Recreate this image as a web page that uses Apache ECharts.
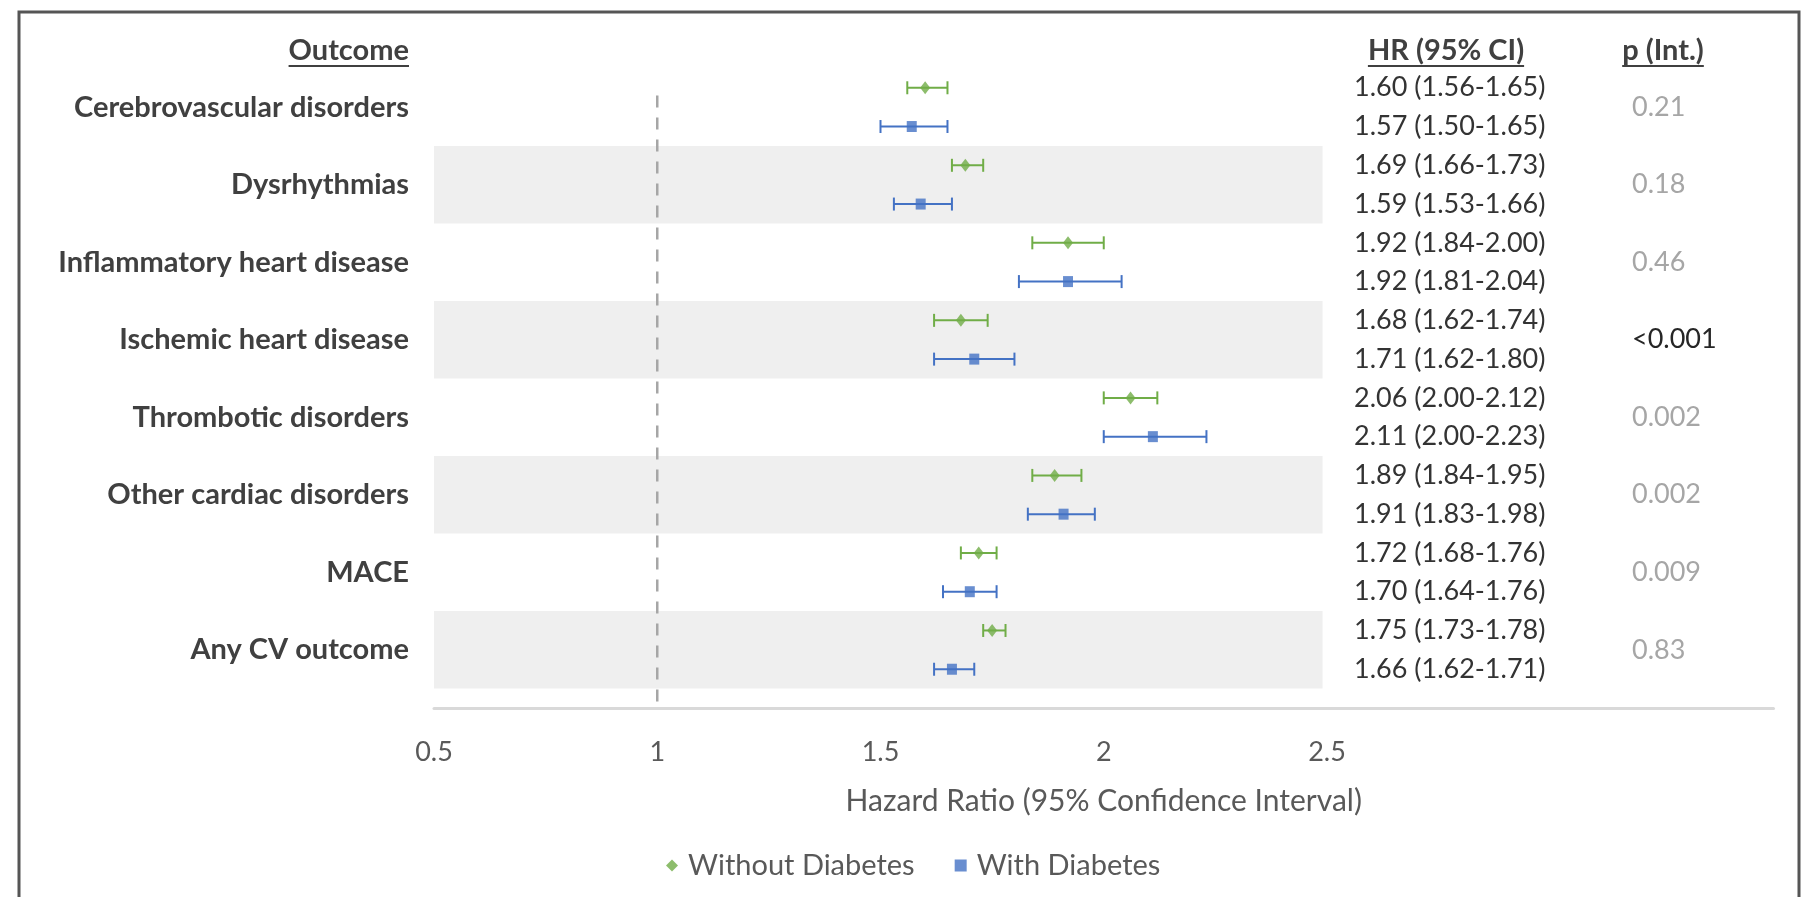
<!DOCTYPE html>
<html>
<head>
<meta charset="utf-8">
<script src="https://cdn.jsdelivr.net/npm/echarts@6.0.0/dist/echarts.min.js"></script>
<style>
  html, body { margin: 0; padding: 0; background: #ffffff; }
  #chart { width: 1805px; height: 897px; }
</style>
</head>
<body>
<div id="chart"></div>
<script>
// Outcomes, top to bottom
const outcomes = [
  'Cerebrovascular disorders',
  'Dysrhythmias',
  'Inflammatory heart disease',
  'Ischemic heart disease',
  'Thrombotic disorders',
  'Other cardiac disorders',
  'MACE',
  'Any CV outcome'
];

// Hazard ratios and 95% CI, without diabetes
const hrWithout = [1.60, 1.69, 1.92, 1.68, 2.06, 1.89, 1.72, 1.75];
const loWithout = [1.56, 1.66, 1.84, 1.62, 2.00, 1.84, 1.68, 1.73];
const hiWithout = [1.65, 1.73, 2.00, 1.74, 2.12, 1.95, 1.76, 1.78];

// Hazard ratios and 95% CI, with diabetes
const hrWith = [1.57, 1.59, 1.92, 1.71, 2.11, 1.91, 1.70, 1.66];
const loWith = [1.50, 1.53, 1.81, 1.62, 2.00, 1.83, 1.64, 1.62];
const hiWith = [1.65, 1.66, 2.04, 1.80, 2.23, 1.98, 1.76, 1.71];

// Interaction p-values
const pInt = ['0.21', '0.18', '0.46', '<0.001', '0.002', '0.002', '0.009', '0.83'];

// Tick labels shown on the hazard-ratio axis
const xTickLabels = [0.5, 1, 1.5, 2, 2.5];

const seriesNames = ['Without Diabetes', 'With Diabetes'];
const colGreen = '#70AD47';
const colBlue = '#4472C4';

const FONT = 'Lato, "Open Sans", sans-serif';

// Layout
const L = {
  gridLeft: 434, gridTop: 49, gridWidth: 1339.5, gridHeight: 659,
  labelRight: 409, hrX: 1354, pX: 1632,
  headerY: 51, hrHeadX: 1446, pHeadX: 1663,
  titleY: 801
};

// Row positions on the vertical value scale: two rows per outcome
const rowOf = (k, g) => 2 * k + 1 + g;

const fmt = v => v.toFixed(2);

const ciData = (hr, lo, hi, g) => hr.map((v, k) => [lo[k], hi[k], rowOf(k, g), v]);
const pointData = (hr, g) => hr.map((v, k) => [v, rowOf(k, g)]);

// Shaded bands behind every second outcome
const bandData = outcomes.map((o, k) => k).filter(k => k % 2 === 1)
  .map(k => [0.5, 2.49, 2 * k + 0.5, 2 * k + 2.5]);

function measure(text, font) {
  const ctx = document.createElement('canvas').getContext('2d');
  ctx.font = font;
  return ctx.measureText(text).width;
}

function errorBarRenderer(color) {
  return function (params, api) {
    const a = api.coord([api.value(0), api.value(2)]);
    const b = api.coord([api.value(1), api.value(2)]);
    const cap = 6.5;
    const style = { stroke: color, lineWidth: 2 };
    return {
      type: 'group',
      children: [
        { type: 'line', shape: { x1: a[0], y1: a[1], x2: b[0], y2: b[1] }, style: style },
        { type: 'line', shape: { x1: a[0], y1: a[1] - cap, x2: a[0], y2: a[1] + cap }, style: style },
        { type: 'line', shape: { x1: b[0], y1: b[1] - cap, x2: b[0], y2: b[1] + cap }, style: style }
      ]
    };
  };
}

const chart = echarts.init(document.getElementById('chart'), null, { renderer: 'canvas' });

// Header texts with underline
const headerSize = 29;
const headerFont = 'bold ' + headerSize + 'px Lato';
const headers = [
  { text: 'Outcome', x: L.labelRight, align: 'right' },
  { text: 'HR (95% CI)', x: L.hrHeadX, align: 'center' },
  { text: 'p (Int.)', x: L.pHeadX, align: 'center' }
];
const headerGraphics = [];
headers.forEach(h => {
  const w = measure(h.text, headerFont);
  const x0 = h.align === 'right' ? h.x - w : h.x - w / 2;
  headerGraphics.push({
    type: 'text', x: h.x, y: L.headerY,
    style: { text: h.text, fill: '#404040', fontSize: headerSize, fontWeight: 'bold', fontFamily: FONT,
             align: h.align, verticalAlign: 'middle' }
  });
  headerGraphics.push({
    type: 'line',
    shape: { x1: x0, y1: L.headerY + 15, x2: x0 + w, y2: L.headerY + 15 },
    style: { stroke: '#404040', lineWidth: 1.8 }
  });
});

const option = {
  backgroundColor: '#ffffff',
  animation: false,
  grid: { left: L.gridLeft, top: L.gridTop, width: L.gridWidth, height: L.gridHeight, containLabel: false },
  xAxis: {
    type: 'value', min: 0.5, max: 3.5, interval: 0.5, position: 'bottom',
    name: 'Hazard Ratio (95% Confidence Interval)',
    nameLocation: 'middle', nameGap: L.titleY - (L.gridTop + L.gridHeight),
    nameTextStyle: { color: '#595959', fontSize: 30, fontFamily: FONT, verticalAlign: 'middle' },
    axisLine: { show: true, onZero: false, lineStyle: { color: '#d9d9d9', width: 3 } },
    axisTick: { show: false },
    splitLine: { show: false },
    axisLabel: {
      formatter: v => (xTickLabels.indexOf(v) >= 0 ? String(v) : ''),
      color: '#595959', fontSize: 27, fontFamily: FONT, margin: 31
    }
  },
  yAxis: { type: 'value', min: 0, max: 17, inverse: true, show: false },
  legend: {
    data: [
      { name: seriesNames[0], icon: 'diamond' },
      { name: seriesNames[1], icon: 'rect' }
    ],
    left: 661, top: 846,
    itemWidth: 12, itemHeight: 12, itemGap: 40,
    textStyle: { color: '#595959', fontSize: 29, fontFamily: FONT, padding: [0, 0, 0, 5] }
  },
  graphic: [
    {
      type: 'rect', shape: { x: 19, y: 12, width: 1780, height: 920 },
      style: { fill: 'none', stroke: '#555555', lineWidth: 3 }, z: 100
    },
    ...headerGraphics
  ],
  series: [
    {
      name: 'bands', type: 'custom', silent: true, clip: false, z: 0,
      data: bandData, encode: { x: [0, 1], y: [2, 3] },
      renderItem: (params, api) => {
        const p0 = api.coord([api.value(0), api.value(2)]);
        const p1 = api.coord([api.value(1), api.value(3)]);
        return { type: 'rect', shape: { x: p0[0], y: p0[1], width: p1[0] - p0[0], height: p1[1] - p0[1] },
                 style: { fill: '#efefef' } };
      }
    },
    {
      name: 'reference', type: 'custom', silent: true, clip: false, z: 1,
      data: [[1, 1.2, 17]], encode: { x: 0, y: [1, 2] },
      renderItem: (params, api) => {
        const a = api.coord([api.value(0), api.value(1)]);
        const b = api.coord([api.value(0), api.value(2)]);
        return { type: 'line', shape: { x1: a[0], y1: a[1], x2: b[0], y2: b[1] },
                 style: { stroke: '#a6a6a6', lineWidth: 2.5, lineDash: [12, 10] } };
      }
    },
    {
      name: 'ciWithout', type: 'custom', silent: true, clip: false, z: 2,
      data: ciData(hrWithout, loWithout, hiWithout, 0), encode: { x: [0, 1], y: 2 },
      renderItem: errorBarRenderer(colGreen)
    },
    {
      name: 'ciWith', type: 'custom', silent: true, clip: false, z: 2,
      data: ciData(hrWith, loWith, hiWith, 1), encode: { x: [0, 1], y: 2 },
      renderItem: errorBarRenderer(colBlue)
    },
    {
      name: seriesNames[0], type: 'scatter', z: 3,
      symbol: 'diamond', symbolSize: [10, 13],
      itemStyle: { color: colGreen },
      data: pointData(hrWithout, 0)
    },
    {
      name: seriesNames[1], type: 'scatter', z: 3,
      symbol: 'rect', symbolSize: [10, 11],
      itemStyle: { color: colBlue },
      data: pointData(hrWith, 1)
    },
    {
      name: 'outcomeLabels', type: 'custom', silent: true, clip: false, z: 4,
      data: outcomes.map((o, k) => [0.5, 2 * k + 1.5, k]), encode: { x: 0, y: 1 },
      renderItem: (params, api) => {
        const p = api.coord([api.value(0), api.value(1)]);
        return { type: 'text', x: L.labelRight, y: p[1],
                 style: { text: outcomes[api.value(2)], fill: '#404040', fontSize: 29, fontWeight: 'bold',
                          fontFamily: FONT, align: 'right', verticalAlign: 'middle' } };
      }
    },
    {
      name: 'hrLabels', type: 'custom', silent: true, clip: false, z: 4,
      data: [].concat(
        hrWithout.map((v, k) => [0.5, rowOf(k, 0), k, 0]),
        hrWith.map((v, k) => [0.5, rowOf(k, 1), k, 1])
      ),
      encode: { x: 0, y: 1 },
      renderItem: (params, api) => {
        const p = api.coord([api.value(0), api.value(1)]);
        const k = api.value(2), g = api.value(3);
        const hr = g === 0 ? hrWithout : hrWith;
        const lo = g === 0 ? loWithout : loWith;
        const hi = g === 0 ? hiWithout : hiWith;
        const txt = fmt(hr[k]) + ' (' + fmt(lo[k]) + '-' + fmt(hi[k]) + ')';
        return { type: 'text', x: L.hrX, y: p[1],
                 style: { text: txt, fill: '#333333', fontSize: 27, fontFamily: FONT,
                          align: 'left', verticalAlign: 'middle' } };
      }
    },
    {
      name: 'pLabels', type: 'custom', silent: true, clip: false, z: 4,
      data: pInt.map((p, k) => [0.5, 2 * k + 1.5, k]), encode: { x: 0, y: 1 },
      renderItem: (params, api) => {
        const p = api.coord([api.value(0), api.value(1)]);
        const txt = pInt[api.value(2)];
        return { type: 'text', x: L.pX, y: p[1],
                 style: { text: txt, fill: txt.charAt(0) === '<' ? '#262626' : '#a6a6a6', fontSize: 27,
                          fontFamily: FONT, align: 'left', verticalAlign: 'middle' } };
      }
    }
  ]
};

chart.setOption(option);
</script>
</body>
</html>
